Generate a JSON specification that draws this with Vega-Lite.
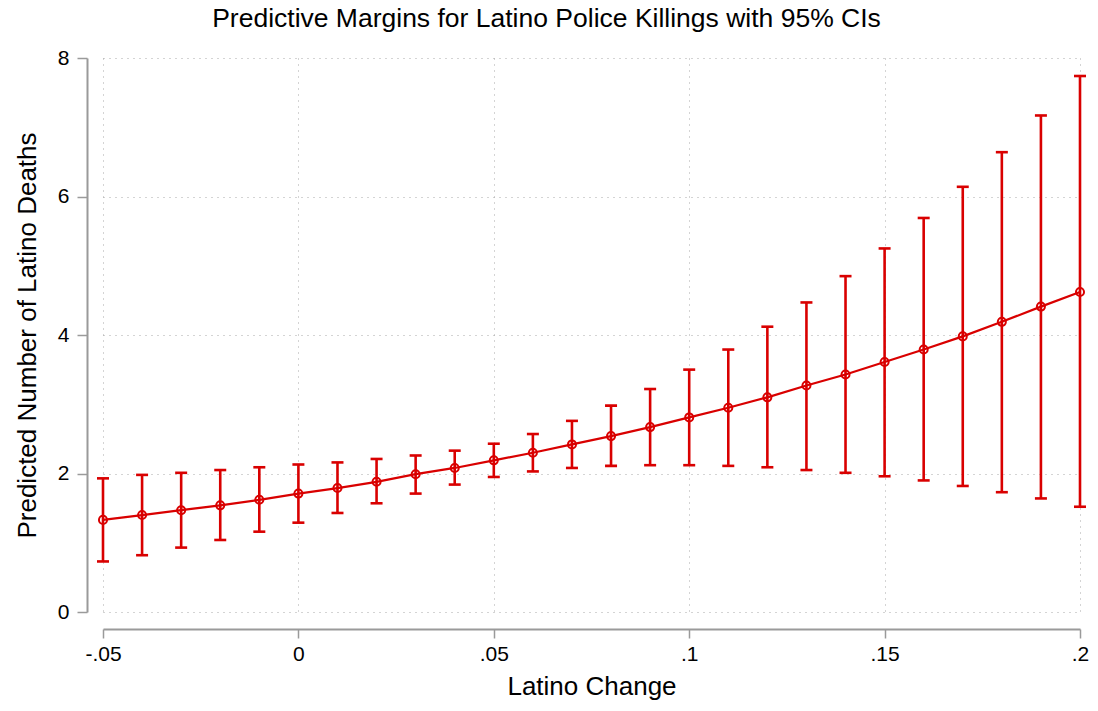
{
  "$schema": "https://vega.github.io/schema/vega-lite/v6.json",
  "width": 977,
  "height": 554,
  "autosize": {"type": "none"},
  "padding": {"left": 103, "top": 58, "right": 18, "bottom": 99},
  "background": "white",
  "config": {
    "view": {"stroke": null},
    "font": "Liberation Sans"
  },
  "title": {
    "text": "Predictive Margins for Latino Police Killings with 95% CIs",
    "fontSize": 26.5,
    "fontWeight": "normal",
    "color": "black",
    "font": "Liberation Sans",
    "anchor": "middle",
    "dx": -45,
    "offset": 15
  },
  "data": {
    "values": [
      {"x": -0.05, "m": 1.33, "lo": 0.73, "hi": 1.93},
      {"x": -0.04, "m": 1.40, "lo": 0.82, "hi": 1.98},
      {"x": -0.03, "m": 1.47, "lo": 0.93, "hi": 2.01},
      {"x": -0.02, "m": 1.54, "lo": 1.04, "hi": 2.05},
      {"x": -0.01, "m": 1.62, "lo": 1.16, "hi": 2.09},
      {"x": 0.0, "m": 1.71, "lo": 1.29, "hi": 2.13},
      {"x": 0.01, "m": 1.79, "lo": 1.43, "hi": 2.16},
      {"x": 0.02, "m": 1.88, "lo": 1.57, "hi": 2.21},
      {"x": 0.03, "m": 1.99, "lo": 1.71, "hi": 2.26},
      {"x": 0.04, "m": 2.08, "lo": 1.84, "hi": 2.33},
      {"x": 0.05, "m": 2.19, "lo": 1.95, "hi": 2.43},
      {"x": 0.06, "m": 2.30, "lo": 2.03, "hi": 2.57},
      {"x": 0.07, "m": 2.42, "lo": 2.08, "hi": 2.76},
      {"x": 0.08, "m": 2.54, "lo": 2.11, "hi": 2.98},
      {"x": 0.09, "m": 2.67, "lo": 2.12, "hi": 3.22},
      {"x": 0.10, "m": 2.81, "lo": 2.12, "hi": 3.50},
      {"x": 0.11, "m": 2.95, "lo": 2.11, "hi": 3.79},
      {"x": 0.12, "m": 3.10, "lo": 2.09, "hi": 4.12},
      {"x": 0.13, "m": 3.27, "lo": 2.05, "hi": 4.47},
      {"x": 0.14, "m": 3.43, "lo": 2.01, "hi": 4.85},
      {"x": 0.15, "m": 3.61, "lo": 1.96, "hi": 5.25},
      {"x": 0.16, "m": 3.79, "lo": 1.90, "hi": 5.69},
      {"x": 0.17, "m": 3.98, "lo": 1.82, "hi": 6.14},
      {"x": 0.18, "m": 4.19, "lo": 1.73, "hi": 6.64},
      {"x": 0.19, "m": 4.41, "lo": 1.64, "hi": 7.17},
      {"x": 0.20, "m": 4.62, "lo": 1.52, "hi": 7.74}
    ]
  },
  "encoding": {
    "x": {
      "field": "x",
      "type": "quantitative",
      "scale": {"domain": [-0.05, 0.2], "nice": false, "zero": false},
      "axis": {
        "title": "Latino Change",
        "values": [-0.05, 0, 0.05, 0.1, 0.15, 0.2],
        "labelExpr": "replace(replace(format(datum.value, '.2~f'), '0.', '.'), '\u2212', '-')",
        "offset": 17,
        "domainColor": "#9a9a9a",
        "domainWidth": 2,
        "tickColor": "#9a9a9a",
        "tickWidth": 1.5,
        "tickSize": 9,
        "labelFontSize": 21,
        "labelColor": "black",
        "labelPadding": 5,
        "labelFlush": false,
        "titleFontSize": 26,
        "titleFontWeight": "normal",
        "titleColor": "black",
        "titlePadding": 9,
        "grid": true,
        "gridColor": "#a8a8a8",
        "gridDash": [1, 5],
        "gridWidth": 1
      }
    }
  },
  "layer": [
    {
      "mark": {"type": "errorbar", "color": "#d90000", "thickness": 2.6, "ticks": {"size": 12, "opacity": 1}, "rule": {"opacity": 1}},
      "encoding": {
        "y": {
          "field": "lo",
          "type": "quantitative",
          "scale": {"domain": [0, 8], "nice": false},
          "axis": {
            "title": "Predicted Number of Latino Deaths",
            "values": [0, 2, 4, 6, 8],
            "format": "d",
            "offset": 16,
            "domainColor": "#9a9a9a",
            "domainWidth": 2,
            "tickColor": "#9a9a9a",
            "tickWidth": 1.5,
            "tickSize": 10,
            "labelFontSize": 21,
            "labelColor": "black",
            "labelPadding": 8,
            "labelFlush": false,
            "titleFontSize": 26,
            "titleFontWeight": "normal",
            "titleColor": "black",
            "titlePadding": 17,
            "grid": true,
            "gridColor": "#a8a8a8",
            "gridDash": [1, 5],
            "gridWidth": 1
          }
        },
        "y2": {"field": "hi"}
      }
    },
    {
      "mark": {"type": "line", "color": "#d90000", "strokeWidth": 2.2},
      "encoding": {"y": {"field": "m", "type": "quantitative"}}
    },
    {
      "mark": {"type": "point", "filled": false, "color": "#d90000", "strokeWidth": 2, "size": 65, "opacity": 1},
      "encoding": {"y": {"field": "m", "type": "quantitative"}}
    }
  ]
}
